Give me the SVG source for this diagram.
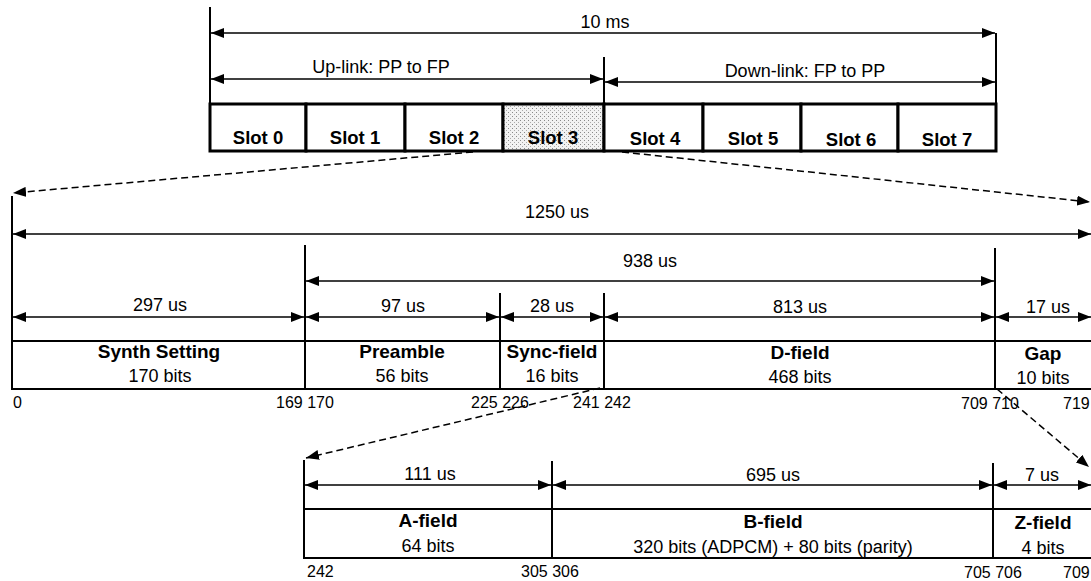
<svg xmlns="http://www.w3.org/2000/svg" width="1091" height="581" viewBox="0 0 1091 581">
<style>
text{font-family:"Liberation Sans",Arial,sans-serif;fill:#000}
.lbl{font-size:18px;text-anchor:middle}
.b{font-weight:bold;font-size:19px}
.slot{font-size:18.5px;font-weight:bold;text-anchor:middle}
.num{font-size:16px}
.box{fill:#fff;stroke:#000;stroke-width:2}
.sbox{fill:#fff;stroke:#000;stroke-width:3}
.ext{stroke:#000;stroke-width:2;fill:none}
.dim{stroke:#000;stroke-width:1.5;fill:none;marker-start:url(#ah);marker-end:url(#ah)}
.dash{stroke:#000;stroke-width:1.5;fill:none;stroke-dasharray:7 4;marker-end:url(#ah)}
</style>
<defs>
<marker id="ah" viewBox="0 0 13 10" refX="13" refY="5" markerWidth="13" markerHeight="10" markerUnits="userSpaceOnUse" orient="auto-start-reverse">
<path d="M0,0 L13,5 L0,10 z" fill="#000"/>
</marker>
<pattern id="stip" width="4" height="4" patternUnits="userSpaceOnUse">
<rect width="4" height="4" fill="#f2f2f2"/>
<rect x="0" y="0" width="1" height="1" fill="#888"/>
<rect x="2" y="2" width="1" height="1" fill="#aaa"/>
</pattern>
</defs>
<rect width="1091" height="581" fill="#fff"/>

<g id="frame-slots">
<g id="slot0"><rect class="sbox" x="210" y="104" width="96" height="47"/><text class="slot" x="258" y="144">Slot 0</text></g>
<g id="slot1"><rect class="sbox" x="306" y="104" width="99" height="47"/><text class="slot" x="355" y="144">Slot 1</text></g>
<g id="slot2"><rect class="sbox" x="405" y="104" width="98" height="47"/><text class="slot" x="454" y="144">Slot 2</text></g>
<g id="slot3"><rect class="sbox" x="503" y="104" width="101" height="47" style="fill:url(#stip)"/><text class="slot" x="553" y="144">Slot 3</text></g>
<g id="slot4"><rect class="sbox" x="604" y="104" width="99" height="47"/><text class="slot" x="655" y="145">Slot 4</text></g>
<g id="slot5"><rect class="sbox" x="703" y="104" width="98" height="47"/><text class="slot" x="753" y="145">Slot 5</text></g>
<g id="slot6"><rect class="sbox" x="801" y="104" width="97" height="47"/><text class="slot" x="851" y="146">Slot 6</text></g>
<g id="slot7"><rect class="sbox" x="898" y="104" width="98" height="47"/><text class="slot" x="947" y="146">Slot 7</text></g>
</g>

<g id="slot-fields">
<g id="synth"><rect class="box" x="12" y="341" width="293" height="48"/><text class="lbl b" x="159" y="358">Synth Setting</text><text class="lbl" x="160" y="382">170 bits</text></g>
<g id="preamble"><rect class="box" x="305" y="341" width="195" height="48"/><text class="lbl b" x="402" y="358">Preamble</text><text class="lbl" x="402" y="382">56 bits</text></g>
<g id="sync"><rect class="box" x="500" y="341" width="104" height="48"/><text class="lbl b" x="552" y="358">Sync-field</text><text class="lbl" x="552" y="382">16 bits</text></g>
<g id="dfield"><rect class="box" x="604" y="341" width="391" height="48"/><text class="lbl b" x="800" y="359">D-field</text><text class="lbl" x="800" y="383">468 bits</text></g>
<g id="gap"><rect class="box" x="995" y="341" width="100" height="48"/><text class="lbl b" x="1043" y="360">Gap</text><text class="lbl" x="1043" y="384">10 bits</text></g>
</g>

<g id="d-fields">
<g id="afield"><rect class="box" x="304" y="509" width="248" height="49"/><text class="lbl b" x="428" y="527">A-field</text><text class="lbl" x="428" y="552">64 bits</text></g>
<g id="bfield"><rect class="box" x="552" y="509" width="441" height="49"/><text class="lbl b" x="773" y="528">B-field</text><text class="lbl" x="773" y="553">320 bits (ADPCM) + 80 bits (parity)</text></g>
<g id="zfield"><rect class="box" x="993" y="509" width="102" height="49"/><text class="lbl b" x="1043" y="529">Z-field</text><text class="lbl" x="1043" y="554">4 bits</text></g>
</g>

<g id="bit-numbers">
<text class="num" x="13" y="408">0</text>
<text class="num" x="276" y="408">169 170</text>
<text class="num" x="471" y="408">225 226</text>
<text class="num" x="573" y="408">241 242</text>
<text class="num" x="961" y="409">709 710</text>
<text class="num" x="1063" y="409">719</text>
<text class="num" x="307" y="577">242</text>
<text class="num" x="521" y="577">305 306</text>
<text class="num" x="964" y="578">705 706</text>
<text class="num" x="1063" y="578">709</text>
</g>

<g id="connectors">
<line class="ext" x1="210" y1="7" x2="210" y2="104"/>
<line class="ext" x1="604" y1="57" x2="604" y2="104"/>
<line class="ext" x1="996" y1="33" x2="996" y2="104"/>
<line class="dim" x1="211" y1="33" x2="995" y2="33"/>
<text class="lbl" x="605" y="28">10 ms</text>
<line class="dim" x1="211" y1="79" x2="603" y2="79"/>
<text class="lbl" x="381" y="73">Up-link: PP to FP</text>
<line class="dim" x1="605" y1="82" x2="995" y2="82"/>
<text class="lbl" x="805" y="77">Down-link: FP to PP</text>

<line class="dash" x1="473" y1="152" x2="13" y2="193"/>
<line class="dash" x1="622" y1="152" x2="1090" y2="202"/>

<line class="ext" x1="12" y1="196" x2="12" y2="341"/>
<line class="ext" x1="305" y1="245" x2="305" y2="341"/>
<line class="ext" x1="500" y1="293" x2="500" y2="341"/>
<line class="ext" x1="604" y1="293" x2="604" y2="341"/>
<line class="ext" x1="995" y1="248" x2="995" y2="341"/>
<line class="dim" x1="13" y1="234" x2="1091" y2="234"/>
<text class="lbl" x="557" y="218">1250 us</text>
<line class="dim" x1="306" y1="281" x2="994" y2="281"/>
<text class="lbl" x="650" y="267">938 us</text>
<line class="dim" x1="13" y1="317" x2="304" y2="317"/>
<text class="lbl" x="160" y="311">297 us</text>
<line class="dim" x1="306" y1="317" x2="499" y2="317"/>
<text class="lbl" x="403" y="312">97 us</text>
<line class="dim" x1="501" y1="317" x2="603" y2="317"/>
<text class="lbl" x="552" y="312">28 us</text>
<line class="dim" x1="605" y1="317" x2="994" y2="317"/>
<text class="lbl" x="800" y="313">813 us</text>
<line class="dim" x1="996" y1="317" x2="1091" y2="317"/>
<text class="lbl" x="1048" y="313">17 us</text>

<line class="dash" x1="600" y1="388" x2="306" y2="458"/>
<line class="dash" x1="997" y1="389" x2="1089" y2="467"/>

<line class="ext" x1="304" y1="460" x2="304" y2="509"/>
<line class="ext" x1="552" y1="461" x2="552" y2="509"/>
<line class="ext" x1="993" y1="463" x2="993" y2="509"/>
<line class="dim" x1="305" y1="485" x2="551" y2="485"/>
<text class="lbl" x="430" y="480">111 us</text>
<line class="dim" x1="553" y1="485" x2="992" y2="485"/>
<text class="lbl" x="773" y="481">695 us</text>
<line class="dim" x1="994" y1="485" x2="1091" y2="485"/>
<text class="lbl" x="1042" y="481">7 us</text>
</g>
</svg>
